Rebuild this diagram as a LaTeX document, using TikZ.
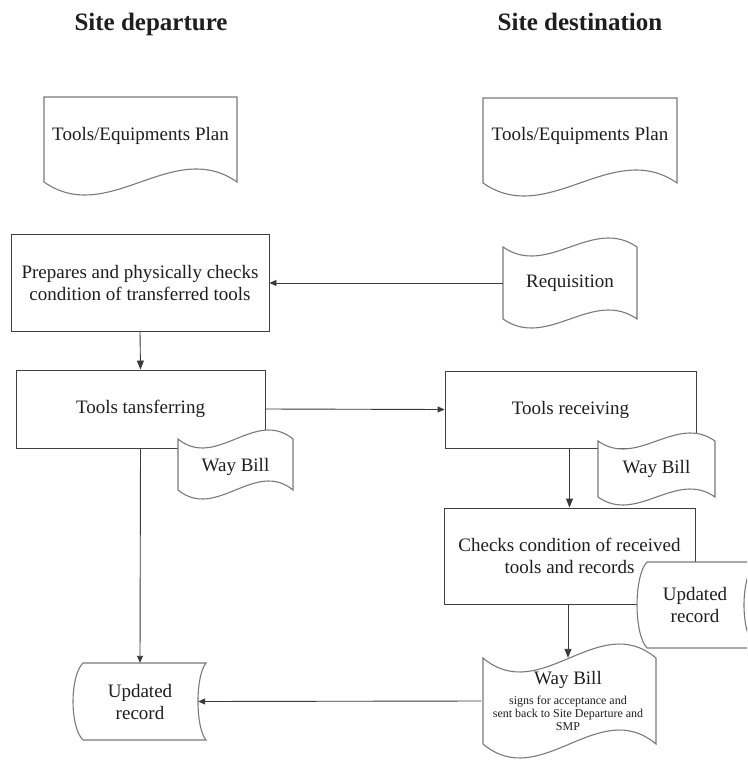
\documentclass[tikz,border=0pt]{standalone}
\usepackage{fontspec}
\setmainfont{Liberation Serif}
\usetikzlibrary{arrows.meta,calc}

\definecolor{ink}{HTML}{1E1E1E}
\definecolor{boxgray}{HTML}{404040}
\definecolor{wavegray}{HTML}{7A7A7A}
\definecolor{arrowgray}{HTML}{3A3A3A}

% punched-tape outline: left, top edge y, right, bottom edge y, wave amplitude
\newcommand\tapeoutline[5]{%
  \path[waveline] (#1,#2)
    .. controls ({#1+(#3-#1)/3},{#2+3.46*#5}) and ({#1+2*(#3-#1)/3},{#2-3.46*#5}) .. (#3,#2)
    -- (#3,#4)
    .. controls ({#1+2*(#3-#1)/3},{#4-3.46*#5}) and ({#1+(#3-#1)/3},{#4+3.46*#5}) .. (#1,#4)
    -- cycle;}

% document outline: left, top, right, side bottom y, wave amplitude
\newcommand\docoutline[5]{%
  \path[waveline] (#1,#2) -- (#3,#2) -- (#3,#4)
    .. controls ({#1+2*(#3-#1)/3},{#4-3.46*#5}) and ({#1+(#3-#1)/3},{#4+3.46*#5}) .. (#1,#4)
    -- cycle;}

\newcommand\smalltxt{\fontsize{12}{12.8}\selectfont}

\begin{document}
\begin{tikzpicture}[x=1pt,y=-1pt,
  waveline/.style={draw=wavegray, line width=1.1pt, fill=white},
  txt/.style={text=ink, font=\fontsize{19}{22}\selectfont, align=center, inner sep=0pt},
  heading/.style={text=ink, font=\bfseries\fontsize{25}{28}\selectfont, inner sep=0pt, anchor=base},
  proc/.style={txt, draw=boxgray, line width=0.9pt, fill=white},
  conn/.style={draw=arrowgray, line width=0.9pt, -{Triangle[length=9pt,width=7pt]}},
  connsmall/.style={draw=arrowgray, line width=0.9pt, -{Triangle[length=7pt,width=6pt]}}]

\clip (0,0) rectangle (747,760);
\fill[white] (0,0) rectangle (747,760);

% column headings
\node[heading] (hdep) at (151,30.7) {Site departure};
\node[heading] (hdst) at (580,30.7) {Site destination};

% plans
\docoutline{44}{97}{237}{182}{13}
\node[txt, anchor=base] (planL) at (140.5,140) {Tools/Equipments Plan};
\docoutline{483}{98}{677}{183}{13}
\node[txt, anchor=base] (planR) at (580,140) {Tools/Equipments Plan};

% process boxes
\node[proc, minimum width=258pt, minimum height=97pt] (prep) at (140,282.5)
  {Prepares and physically checks\\condition of transferred tools};
\node[proc, minimum width=249pt, minimum height=78pt] (tt) at (140.5,409) {Tools tansferring};
\node[proc, minimum width=251pt, minimum height=77pt] (tr) at (570.5,409.5) {Tools receiving};
\node[proc, minimum width=251pt, minimum height=96pt] (chk) at (569.5,556)
  {Checks condition of received\\tools and records};

% requisition
\tapeoutline{503}{247}{637}{319}{9}
\node[txt, minimum width=134pt, minimum height=72pt] (req) at (570,283) {Requisition};

% way bills
\tapeoutline{178}{439}{293}{490}{9}
\node[txt] (wbL) at (235.5,467) {Way Bill};
\tapeoutline{598}{441}{715}{497}{8}
\node[txt] (wbR) at (656.5,469) {Way Bill};
\tapeoutline{483}{658}{656}{744}{14}
\node[txt, font=\smalltxt, minimum width=173pt, minimum height=86pt] (wbB) at (568,701)
  {{\fontsize{19}{22}\selectfont Way Bill}\\[7pt]signs for acceptance and\\
   sent back to Site Departure and\\SMP};

% updated records (stored data)
\path[waveline] (647,562) -- (756,562) .. controls (740,576) and (740,634) .. (756,648)
  -- (647,648) .. controls (633.7,634) and (633.7,576) .. (647,562) -- cycle;
\node[txt] (updR) at (695,605) {Updated\\record};
\path[waveline] (83,663) -- (206,663) .. controls (195.3,676) and (195.3,727) .. (206,740)
  -- (83,740) .. controls (69.7,727) and (69.7,676) .. (83,663) -- cycle;
\node[txt, minimum width=116pt, minimum height=77pt] (updL) at (140,701.5) {Updated\\record};

% flow
\draw[connsmall] (req.west) -- (prep.east |- req.west);
\draw[conn] (prep.south) -- (tt.north);
\draw[connsmall] (tt.east) -- (tr.west);
\draw[conn] (569.5,448) coordinate (trdown) -- (trdown |- chk.north);
\draw[conn] (chk.south -| wbB.north) -- (wbB.north);
\draw[connsmall] (tt.south) -- (updL.north);
\draw[connsmall] (wbB.west) -- (updL.east);
\end{tikzpicture}
\end{document}
